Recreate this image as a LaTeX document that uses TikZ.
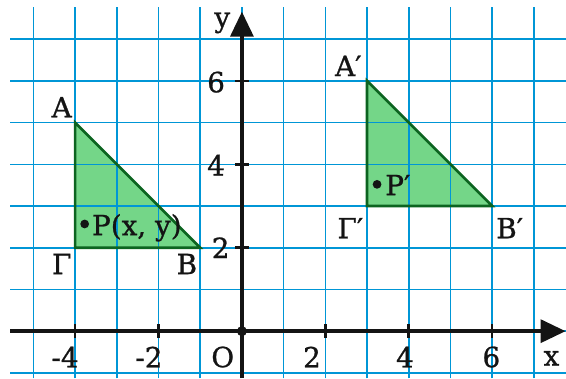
\documentclass[tikz,border=0pt]{standalone}
\usepackage{fontspec}
\setmainfont{DejaVu Serif}
\newfontfamily\labelfont{DejaVu Serif}[FakeBold=0.9]
\usepackage{xcolor}
\usepackage{tikz}
\usetikzlibrary{arrows.meta, positioning, calc}
\definecolor{gridblue}{RGB}{0, 150, 214}
\definecolor{trifill}{RGB}{116, 214, 136}
\definecolor{triedge}{RGB}{12, 100, 32}
\definecolor{inkblack}{RGB}{20, 20, 20}

\begin{document}
\begin{tikzpicture}[
  every node/.style={font=\labelfont\fontsize{19}{22}\selectfont, text=inkblack, inner sep=0pt},
  gridline/.style={draw=gridblue, line width=1.1pt},
  axis/.style={draw=inkblack, line width=2.5pt, -{Triangle[length=0.6cm, width=0.55cm]}},
  tickmark/.style={draw=inkblack, line width=1.8pt},
  tri/.style={draw=triedge, line width=1.8pt, line join=miter},
  trishade/.style={fill=trifill},
  dot/.style={fill=inkblack}
]
  \useasboundingbox (-5.80,-1.13) rectangle (7.77,7.94);

  % Korufes trigwnwn
  \coordinate (A) at (-4,5);
  \coordinate (B) at (-1,2);
  \coordinate (G) at (-4,2);
  \coordinate (A1) at (3,6);
  \coordinate (B1) at (6,3);
  \coordinate (G1) at (3,3);
  \coordinate (P) at (-3.77,2.57);
  \coordinate (P1) at (3.24,3.52);

  % Gemisma
  \fill[trishade] (A) -- (B) -- (G) -- cycle;
  \fill[trishade] (A1) -- (B1) -- (G1) -- cycle;

  % Plegma
  \draw[gridline] (-5.56,-1.13) grid (7.77,7.77);

  % Perigramma
  \draw[tri] (A) -- (B) -- (G) -- cycle;
  \draw[tri] (A1) -- (B1) -- (G1) -- cycle;

  % Axones
  \coordinate (xstart) at (-5.56,0);
  \coordinate (xend) at (7.76,0);
  \coordinate (ystart) at (0,-1.13);
  \coordinate (yend) at (0,7.66);
  \coordinate (O) at (0,0);
  \draw[axis] (xstart) -- (xend);
  \draw[axis] (ystart) -- (yend);
  \fill[dot] (O) circle (0.12);

  % Endeixeis
  \draw[tickmark] (-4,-0.16) -- (-4,0.16);
  \draw[tickmark] (-2,-0.16) -- (-2,0.16);
  \draw[tickmark] (2,-0.16) -- (2,0.16);
  \draw[tickmark] (4,-0.16) -- (4,0.16);
  \draw[tickmark] (6,-0.16) -- (6,0.16);
  \draw[tickmark] (-0.17,2) -- (0.17,2);
  \draw[tickmark] (-0.17,4) -- (0.17,4);
  \draw[tickmark] (-0.17,6) -- (0.17,6);

  \node (xm4) at (-4.24,-0.62) {-4};
  \node (xm2) at (-2.23,-0.62) {-2};
  \node (orig) at (-0.46,-0.62) {O};
  \node (xp2) at (1.68,-0.62) {2};
  \node (xp4) at (3.91,-0.62) {4};
  \node (xp6) at (5.98,-0.62) {6};
  \node (xlbl) at (7.42,-0.65) {x};
  \node[anchor=east] (yp2) at (-0.29,2.0) {2};
  \node[anchor=east] (yp4) at (-0.40,3.98) {4};
  \node[anchor=east] (yp6) at (-0.40,5.97) {6};
  \node (ylbl) at (-0.47,7.39) {y};

  % Onomata shmeiwn
  \node (lA) at (-4.32,5.37) {A};
  \node (lG) at (-4.32,1.61) {Γ};
  \node (lB) at (-1.32,1.61) {B};
  \node (lA1) at (2.55,6.36) {A′};
  \node (lG1) at (2.60,2.47) {Γ′};
  \node (lB1) at (6.42,2.47) {B′};

  \fill[dot] (P) circle (0.105);
  \fill[dot] (P1) circle (0.105);
  \node[anchor=base west] (lP) at (-3.60,2.30) {P(x, y)};
  \node[anchor=base west] (lP1) at (3.43,3.26) {P′};

\end{tikzpicture}
\end{document}
